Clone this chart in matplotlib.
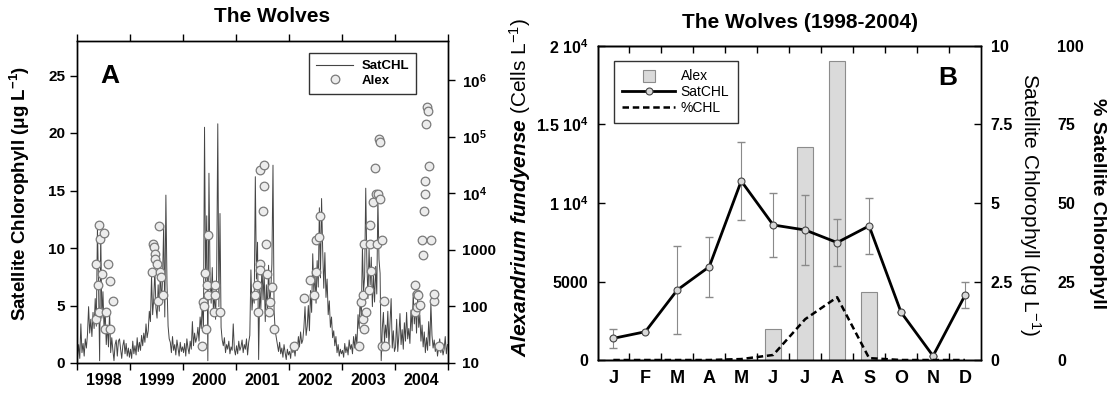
import matplotlib
matplotlib.use("Agg")
import matplotlib.pyplot as plt
import numpy as np
from matplotlib.lines import Line2D
from matplotlib.ticker import FixedFormatter, FixedLocator, NullLocator

plt.rcParams["font.family"] = ["Liberation Sans", "DejaVu Sans"]
plt.rcParams["font.weight"] = "bold"
plt.rcParams["mathtext.fontset"] = "custom"
plt.rcParams["mathtext.rm"] = "Liberation Sans"
plt.rcParams["mathtext.it"] = "Liberation Sans:italic"
plt.rcParams["mathtext.bf"] = "Liberation Sans:bold"
plt.rcParams["mathtext.default"] = "regular"
plt.rcParams["axes.linewidth"] = 1.0

# --- panel A: satellite chlorophyll, 48 samples per year (ug/L) ---
YEARS = [1998, 1999, 2000, 2001, 2002, 2003, 2004]
sat_1998 = [0.5, 1.6, 0.4, 3.4, 0.9, 1.7, 0.6, 2.1, 1.3, 2.5, 4.9, 2.6,
            3.8, 2.3, 4.4, 3.0, 5.6, 3.2, 11.8, 7.0, 0.2, 11.3, 3.9, 6.2,
            2.9, 4.6, 1.6, 3.3, 1.4, 4.5, 0.9, 2.2, 1.1, 0.2, 1.6, 2.0,
            0.6, 1.9, 2.1, 1.2, 0.4, 1.5, 2.0, 0.8, 1.7, 0.6, 1.3, 0.5]
sat_1999 = [1.2, 0.4, 1.9, 0.8, 1.5, 0.7, 2.2, 1.0, 1.8, 1.1, 2.4, 1.5,
            2.6, 1.8, 3.4, 2.2, 2.8, 4.5, 3.6, 7.6, 4.2, 5.6, 8.1, 4.8,
            3.9, 6.8, 4.5, 8.2, 5.1, 7.4, 12.0, 4.0, 14.6, 6.9, 3.2, 2.1,
            1.8, 0.9, 2.3, 1.1, 1.6, 0.7, 2.0, 1.3, 0.6, 1.8, 1.0, 1.4]
sat_2000 = [0.9, 1.7, 0.6, 2.1, 1.3, 0.8, 1.9, 1.2, 3.6, 1.5, 2.6, 1.8,
            2.2, 3.1, 1.9, 4.0, 3.0, 5.3, 2.7, 20.5, 6.8, 12.8, 0.2, 16.5,
            7.5, 5.2, 8.3, 4.6, 6.0, 3.8, 7.7, 20.8, 4.9, 13.0, 3.1, 2.0,
            1.5, 2.2, 0.9, 1.6, 1.2, 1.9, 0.8, 1.4, 1.1, 3.4, 1.2, 0.7]
sat_2001 = [1.5, 0.8, 1.9, 1.1, 1.4, 2.0, 0.9, 1.6, 1.2, 2.1, 0.7, 1.8,
            2.4, 8.1, 4.6, 6.0, 5.2, 16.2, 7.3, 10.5, 0.3, 6.4, 4.8, 8.6,
            5.5, 7.9, 3.6, 6.8, 4.4, 8.5, 5.1, 6.3, 8.6, 17.2, 4.5, 2.8,
            2.2, 1.6, 1.0, 1.8, 0.8, 1.3, 0.5, 1.6, 0.9, 0.3, 1.2, 0.7]
sat_2002 = [1.0, 0.4, 1.6, 0.9, 1.3, 0.6, 1.8, 1.1, 2.3, 1.4, 2.7, 1.7,
            2.0, 3.1, 4.9, 2.4, 3.2, 5.0, 2.8, 6.3, 4.4, 9.5, 6.1, 7.8,
            5.2, 8.9, 6.6, 13.5, 7.4, 14.3, 9.8, 6.5, 9.6, 5.7, 7.3, 4.2,
            5.4, 3.1, 4.0, 2.2, 2.8, 1.5, 2.3, 0.9, 1.6, 0.6, 1.2, 0.8]
sat_2003 = [1.1, 0.5, 1.7, 0.9, 1.4, 0.7, 2.0, 1.2, 1.6, 0.8, 2.3, 1.3,
            2.5, 1.6, 4.2, 3.0, 5.8, 4.0, 10.1, 6.2, 7.5, 15.2, 8.8, 5.6,
            10.0, 6.8, 9.2, 4.9, 7.6, 5.3, 8.4, 6.0, 14.3, 9.0, 7.8, 0.2,
            3.0, 4.4, 1.8, 3.3, 2.2, 4.5, 1.5, 3.6, 5.6, 1.3, 2.8, 1.0]
sat_2004 = [1.4, 3.8, 1.0, 2.4, 4.3, 1.6, 2.9, 1.2, 3.5, 1.9, 4.4, 2.1,
            3.0, 1.7, 4.6, 2.8, 6.1, 3.4, 5.2, 2.6, 5.8, 3.1, 4.2, 1.9,
            3.3, 1.4, 2.7, 0.9, 2.2, 1.1, 3.6, 1.5, 5.2, 2.4, 1.3, 2.0,
            1.0, 1.7, 0.6, 1.4, 2.1, 0.9, 1.5, 0.7, 1.2, 2.3, 0.8, 1.6]
sat_series = [sat_1998, sat_1999, sat_2000, sat_2001, sat_2002, sat_2003, sat_2004]

# Alexandrium counts (cells/L) by decimal year
alex_year = [1998.36, 1998.41, 1998.44, 1998.50, 1998.39, 1998.35, 1998.41, 1998.48,
             1998.54, 1998.52, 1998.58, 1998.63, 1998.62, 1998.68,
             1999.42, 1999.43, 1999.46, 1999.48, 1999.47, 1999.51, 1999.55, 1999.53,
             1999.57, 1999.59, 1999.62,
             2000.36, 2000.37, 2000.40, 2000.42, 2000.44, 2000.45, 2000.48, 2000.48,
             2000.58, 2000.61, 2000.61, 2000.70,
             2001.35, 2001.40, 2001.41, 2001.45, 2001.46, 2001.50, 2001.46, 2001.53,
             2001.52, 2001.57, 2001.58, 2001.62, 2001.64, 2001.67, 2001.71,
             2002.10, 2002.28, 2002.39, 2002.47, 2002.50, 2002.50, 2002.56, 2002.58,
             2003.33, 2003.36, 2003.40, 2003.40, 2003.42, 2003.42, 2003.46, 2003.50,
             2003.53, 2003.55, 2003.52, 2003.58, 2003.62, 2003.64, 2003.67, 2003.66,
             2003.69, 2003.72, 2003.72, 2003.75, 2003.79, 2003.76, 2003.82,
             2004.37, 2004.38, 2004.41, 2004.42, 2004.44, 2004.47, 2004.50, 2004.52,
             2004.55, 2004.56, 2004.57, 2004.59, 2004.61, 2004.63, 2004.64, 2004.67,
             2004.73, 2004.74, 2004.83]
alex_cells = [570, 2700, 1570, 1980, 235, 60, 80, 380,
              80, 40, 570, 280, 40, 123,
              400, 1280, 1120, 850, 700, 570, 2630, 123,
              400, 330, 157,
              20, 120, 100, 390, 40, 235, 1800, 157,
              80, 235, 157, 80,
              157, 235, 80, 570, 433, 4820, 25300, 31000,
              13200, 1280, 367, 80, 120, 220, 40,
              20, 141, 288, 157, 403, 1500, 1720, 3900,
              20, 120, 157, 60, 40, 1280, 80, 197,
              2700, 423, 1280, 7010, 28500, 9550, 9550, 1280,
              91900, 79800, 7990, 1470, 123, 20, 20,
              80, 235, 166, 98, 157, 104, 1470, 800,
              4820, 9550, 16800, 169000, 333000, 289000, 29900, 1470,
              123, 166, 20]

# --- panel B: monthly climatology 1998-2004 ---
months = np.arange(1, 13)
month_labels = ["J", "F", "M", "A", "M", "J", "J", "A", "S", "O", "N", "D"]
alex_monthly = [0, 0, 0, 0, 0, 1975, 13570, 19070, 4350, 0, 0, 0]
sat_monthly = [0.69, 0.90, 2.23, 2.97, 5.70, 4.30, 4.14, 3.74, 4.27, 1.52, 0.13, 2.06]
sat_err = [0.30, 0.0, 1.41, 0.95, 1.23, 1.03, 1.12, 0.75, 0.90, 0.0, 0.0, 0.41]
pct_chl = [0, 0, 0, 0, 0.3, 1.6, 13.0, 20.0, 0.6, 0, 0, 0]

W, H = 1112, 393
LINE_GREY = "#454545"
CIRCLE_FACE, CIRCLE_EDGE = "#ececec", "#7a7a7a"
BAR_FACE, BAR_EDGE = "#dadada", "#8c8c8c"
DASH = (0, (2.6, 1.5))

fig = plt.figure(figsize=(W / 100, H / 100), dpi=100)

# ---------------- panel A ----------------
ax = fig.add_axes([77 / W, 30 / H, 371 / W, 322 / H])
x_sat = np.concatenate([yr + (np.arange(len(v)) + 0.5) / len(v) for yr, v in zip(YEARS, sat_series)])
y_sat = np.concatenate(sat_series)
ax.plot(x_sat, y_sat, color=LINE_GREY, lw=0.7)
ax.set_xlim(1998, 2005)
ax.set_ylim(0, 28)
ax.set_xticks(range(1998, 2006))
ax.set_xticklabels([])
ax.set_xticks(np.arange(1998.5, 2005, 1), minor=True)
ax.set_xticklabels([str(y) for y in YEARS], minor=True)
ax.set_yticks([0, 5, 10, 15, 20, 25])
ax.tick_params(which="major", direction="out", length=5, width=1, top=True, labelsize=11)
ax.tick_params(axis="x", which="minor", length=0, pad=7, labelsize=11.5)
ax.yaxis.set_minor_locator(NullLocator())
ax.text(-0.1536, 0.528, "Satellite Chlorophyll (μg L$^{-1}$)", transform=ax.transAxes,
        rotation=90, ha="center", va="center", fontsize=13.5)
ax.text(0.062, 0.87, "A", transform=ax.transAxes, fontsize=19, ha="left", va="baseline")

ax_r = ax.twinx()
ax_r.set_yscale("log")
ax_r.set_ylim(10, 10 ** (1 + 28 / 4.92))
ax_r.yaxis.set_major_locator(FixedLocator([10, 100, 1000, 1e4, 1e5, 1e6]))
ax_r.yaxis.set_major_formatter(FixedFormatter(["10", "100", "1000", "10$^4$", "10$^5$", "10$^6$"]))
ax_r.yaxis.set_minor_locator(NullLocator())
ax_r.tick_params(direction="out", length=5, width=1, labelsize=11, pad=5)
ax_r.plot(alex_year, alex_cells, "o", ms=6.2, mfc=CIRCLE_FACE, mec=CIRCLE_EDGE, mew=0.9)
ax_r.text(1.194, 0.545, r"$\it{Alexandrium\ fundyense}$ (Cells L$^{-1}$)", transform=ax_r.transAxes,
          rotation=90, ha="center", va="center", fontsize=15, fontweight="normal")

leg_a = ax_r.legend(
    [Line2D([], [], color=LINE_GREY, lw=0.8),
     Line2D([], [], ls="none", marker="o", ms=6.2, mfc=CIRCLE_FACE, mec=CIRCLE_EDGE, mew=0.9)],
    ["SatCHL", "Alex"], loc="upper right", bbox_to_anchor=(0.914, 0.963), borderaxespad=0,
    fancybox=False, edgecolor="k", prop={"size": 9.5, "weight": "bold"},
    handlelength=2.8, borderpad=0.55, labelspacing=0.15, handletextpad=0.6)
leg_a.get_frame().set_linewidth(1.0)

fig.text(272 / W, 1 - 17 / H, "The Wolves", ha="center", va="center", fontsize=15)

# ---------------- panel B ----------------
bx = fig.add_axes([598 / W, 33 / H, 383 / W, 314 / H])
bx.bar(months, alex_monthly, width=0.5, color=BAR_FACE, edgecolor=BAR_EDGE, lw=0.8)
bx.set_xlim(0.52, 12.5)
bx.set_ylim(0, 20000)
bx.set_yticks([0, 5000, 10000, 15000, 20000])
bx.set_yticklabels(["0", "5000", "1 10$^4$", "1.5 10$^4$", "2 10$^4$"])
bx.set_xticks(np.arange(1.5, 12, 1))
bx.set_xticklabels([])
bx.set_xticks(months, minor=True)
bx.set_xticklabels(month_labels, minor=True)
bx.tick_params(which="major", direction="in", length=5, width=1, top=True, labelsize=11.5, pad=7)
bx.tick_params(axis="x", which="minor", length=0, pad=7, labelsize=13)
bx.yaxis.set_minor_locator(NullLocator())

bx2 = bx.twinx()
bx2.set_ylim(0, 10)
bx2.set_yticks([0, 2.5, 5, 7.5, 10])
bx2.set_yticklabels(["0", "2.5", "5", "7.5", "10"])
bx2.tick_params(direction="in", length=5, width=1, labelsize=11.5, pad=7)
bx2.errorbar(months, sat_monthly, yerr=sat_err, fmt="none", ecolor="#8a8a8a", elinewidth=0.8, capsize=3)
bx2.plot(months, sat_monthly, "-o", color="k", lw=2, ms=5, mfc="#d8d8d8", mec="#444444", mew=0.8)
bx2.text(1.128, 0.494, "Satellite Chlorophyll (μg L$^{-1}$)", transform=bx2.transAxes,
         rotation=270, ha="center", va="center", fontsize=15, fontweight="normal")

bx3 = bx.twinx()
bx3.spines["right"].set_position(("outward", 50))
bx3.spines["right"].set_visible(False)
bx3.set_ylim(0, 100)
bx3.set_yticks([0, 25, 50, 75, 100])
bx3.tick_params(length=0, labelsize=11.5, pad=5)
bx3.plot(months, pct_chl, color="k", lw=1.8, ls=DASH)
bx3.text(1.303, 0.5, "% Satellite Chlorophyll", transform=bx3.transAxes,
         rotation=270, ha="center", va="center", fontsize=14)
bx3.text(0.937, 0.876, "B", transform=bx3.transAxes, fontsize=19, ha="right", va="baseline")

leg_b = bx3.legend(
    [Line2D([], [], ls="none", marker="s", ms=8, mfc=BAR_FACE, mec=BAR_EDGE, mew=0.8),
     Line2D([], [], color="k", lw=2, marker="o", ms=5, mfc="#d8d8d8", mec="#444444", mew=0.8),
     Line2D([], [], color="k", lw=1.8, ls=DASH)],
    ["Alex", "SatCHL", "%CHL"], loc="upper left", bbox_to_anchor=(0.042, 0.952), borderaxespad=0,
    fancybox=False, edgecolor="k", prop={"size": 10, "weight": "normal"},
    handlelength=3.8, borderpad=0.6, labelspacing=0.12, handletextpad=0.4)
leg_b.get_frame().set_linewidth(1.0)

fig.text(800 / W, 1 - 22 / H, "The Wolves (1998-2004)", ha="center", va="center", fontsize=15)

fig.savefig("out.png", dpi=100)
